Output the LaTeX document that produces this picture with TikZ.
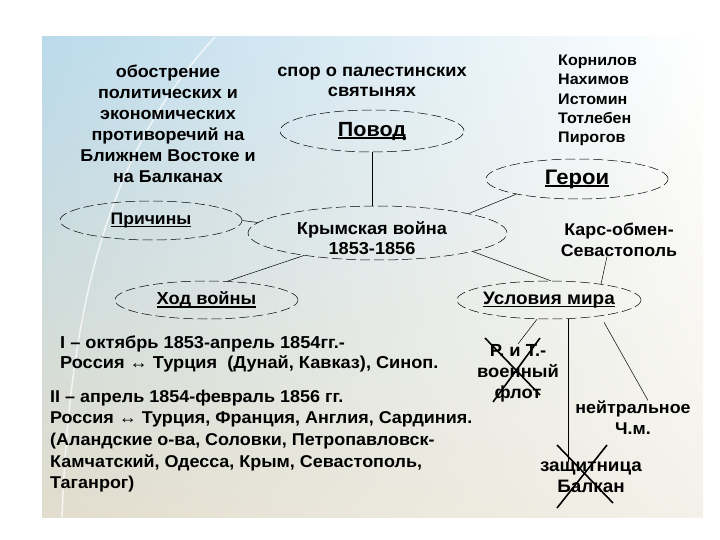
\documentclass[tikz,border=0pt]{standalone}
\usepackage{fontspec}
\setmainfont{Liberation Sans}[FakeStretch=1.05]
\usetikzlibrary{shapes.geometric,calc,shadings}
\newcommand\ulbox[1]{\setbox0\hbox{#1}\rlap{\rule[-2.8pt]{\wd0}{1.4pt}}\box0}
\definecolor{bgUL}{RGB}{186,218,235}
\definecolor{bgLL}{RGB}{226,221,205}
\definecolor{bgLR}{RGB}{243,241,233}
\begin{document}
\begin{tikzpicture}[x=1pt,y=-1pt,
  oval/.style={ellipse, draw, dash pattern=on 10pt off 4pt, line width=0.5pt, inner sep=0pt},
  txt/.style={inner sep=0pt, align=center},
  conn/.style={line width=0.5pt},
  crossline/.style={draw=black, line width=1.6pt}
]
\useasboundingbox (0,0) rectangle (720,540);
\fill[white] (0,0) rectangle (720,540);
\shade[upper left=bgUL, upper right=white, lower left=bgLL, lower right=bgLR] (42,37) rectangle (703,517);
\draw[white, opacity=0.7, line width=1.5pt] (215,37) .. controls (110,150) and (70,300) .. (62,517);

% top texts
\node[txt, font=\fontsize{17.1}{21}\selectfont\bfseries] (cause) at (168,124)
  {обострение\\политических и\\экономических\\противоречий на\\Ближнем Востоке и\\на Балканах};
\node[txt, font=\fontsize{17.4}{20}\selectfont\bfseries] (spor) at (372,82)
  {спор о палестинских\\святынях};
\node[txt, align=left, anchor=west, font=\fontsize{15.3}{19.3}\selectfont\bfseries] (heroes) at (558,100.5)
  {Корнилов\\Нахимов\\Истомин\\Тотлебен\\Пирогов};

% ellipses
\node[oval, minimum width=184pt, minimum height=42pt] (povod) at (372,131) {};
\node[txt, font=\fontsize{20.5}{23}\selectfont\bfseries] (povodT) at (povod) {\ulbox{Повод}};
\node[oval, minimum width=182pt, minimum height=40pt] (geroi) at (577,179) {};
\node[txt, font=\fontsize{21}{24}\selectfont\bfseries] (geroiT) at (geroi) {\ulbox{Герои}};
\node[oval, minimum width=182pt, minimum height=39pt] (prich) at (151,220.5) {};
\node[txt, font=\fontsize{16.7}{19}\selectfont\bfseries] (prichT) at (prich) {\ulbox{Причины}};
\node[oval, minimum width=259pt, minimum height=54pt] (krym) at (377.5,233) {};
\node[txt, font=\fontsize{17.3}{19.5}\selectfont\bfseries] (krymT) at (372,238) {Крымская война\\1853-1856};
\node[oval, minimum width=183pt, minimum height=38pt] (hod) at (206.5,300) {};
\node[txt, font=\fontsize{17.4}{19}\selectfont\bfseries] (hodT) at (hod) {\ulbox{Ход войны}};
\node[oval, minimum width=184pt, minimum height=38pt] (usl) at (549,300) {};
\node[txt, font=\fontsize{18}{19}\selectfont\bfseries] (uslT) at (usl) {\ulbox{Условия мира}};

\node[txt, font=\fontsize{17}{21}\selectfont\bfseries] (kars) at (619,239.5) {Карс-обмен-\\Севастополь};

% lower right texts
\node[txt, font=\fontsize{17.5}{21}\selectfont\bfseries] (rit) at (518,373) {Р. и Т.-\\военный\\флот};
\node[txt, font=\fontsize{17}{21}\selectfont\bfseries] (neut) at (633,417.5) {нейтральное\\Ч.м.};
\node[txt, font=\fontsize{18}{21}\selectfont\bfseries] (zas) at (591,477.5) {защитница\\Балкан};

% lower left texts
\node[txt, align=left, anchor=west, font=\fontsize{17.3}{20.5}\selectfont\bfseries] (stage1) at (60,354)
  {I – октябрь 1853-апрель 1854гг.-\\Россия ↔ Турция~ (Дунай, Кавказ), Синоп.};
\node[txt, align=left, anchor=west, font=\fontsize{17.1}{21.7}\selectfont\bfseries] (stage2) at (50,441)
  {II – апрель 1854-февраль 1856 гг.\\Россия ↔ Турция, Франция, Англия, Сардиния.\\(Аландские о-ва, Соловки, Петропавловск-\\Камчатский, Одесса, Крым, Севастополь,\\Таганрог)};

% connectors
\draw[conn] (povod.south) -- (povod.south |- krym.north);
\draw[conn] (prich.east) -- (krym.175);
\draw[conn] (krym.12) -- (geroi.194);
\draw[conn] (krym.197) -- (hod.42);
\draw[conn] (krym.349) -- (usl.85);
\draw[conn] ([xshift=-12pt]kars.south) -- (usl.17);
\draw[conn] ([xshift=-12pt]usl.south) -- (rit.north);
\draw[conn] ([xshift=19pt]usl.south) -- ([xshift=19pt]usl.south |- zas.north);
\draw[conn] ([xshift=55pt,yshift=-3pt]usl.south) -- ([xshift=15pt]neut.north);

% crosses
\path[crossline] (485,338) -- (540,395);
\path[crossline] (540,338) -- (493,402);
\path[crossline] (557,445) -- (613,503);
\path[crossline] (607,445) -- (557,508);
\end{tikzpicture}
\end{document}
